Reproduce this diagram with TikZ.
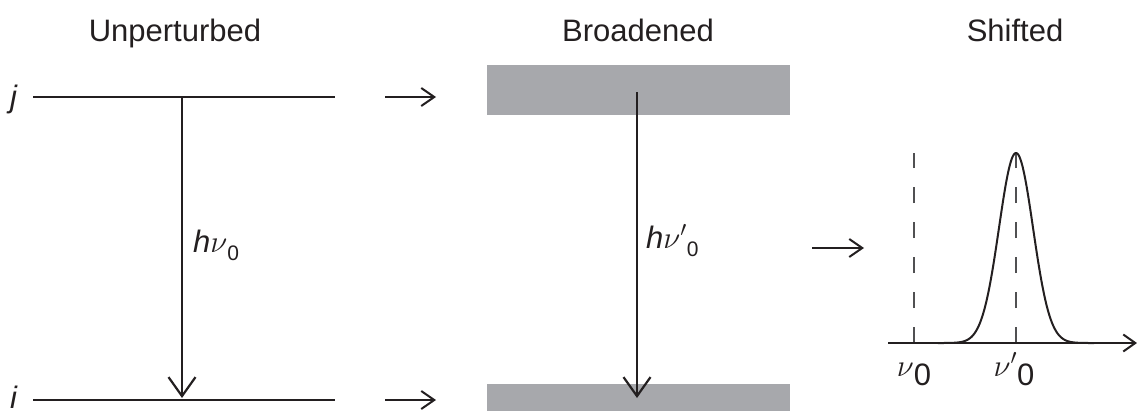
\RequirePackage{fix-cm}
\documentclass[tikz,border=0pt]{standalone}
\usepackage{fontspec}
\setmainfont{Liberation Sans}
\usetikzlibrary{arrows.meta}
\definecolor{bandgray}{RGB}{167,168,172}
\definecolor{ink}{RGB}{35,31,32}
\definecolor{dashgray}{RGB}{80,80,82}
\begin{document}
\begin{tikzpicture}[x=1pt,y=-1pt, line width=2.2pt, draw=ink,
  txt/.style={font=\fontsize{31}{36}\selectfont, inner sep=0pt, text=ink},
  bigarrow/.style={-{Straight Barb[length=19pt,width=27pt,line width=2.2pt]}},
  smallarrow/.style={-{Straight Barb[length=13pt,width=18pt,line width=2pt]}},
  band/.style={fill=bandgray, draw=none},
  dashline/.style={draw=dashgray, line width=2.6pt, dash pattern=on 16pt off 19pt},
]
\useasboundingbox (0,0) rectangle (1137,410);

% titles
\node[txt, anchor=base] (t1) at (175,41) {Unperturbed};
\node[txt, anchor=base] (t2) at (638,41) {Broadened};
\node[txt, anchor=base] (t3) at (1015,41) {Shifted};

% unperturbed levels
\node[txt, anchor=base] (jlab) at (14,107) {\textit{j}};
\node[txt, anchor=base] (ilab) at (14,408) {\textit{i}};
\coordinate (jL) at (33,97);
\coordinate (jR) at (335,97);
\coordinate (iL) at (33,400);
\coordinate (iR) at (335,400);
\draw (jL) -- (jR);
\draw (iL) -- (iR);
\coordinate (a1s) at (182,97);
\coordinate (a1e) at (182,398);
\draw[bigarrow] (a1s) -- (a1e);
\node[txt, anchor=base west] (hv0) at (192,252) {\textit{h}$\nu$\raisebox{-8pt}{\fontsize{21}{21}\selectfont 0}};

% arrows to broadened
\coordinate (r1s) at (385,97);
\coordinate (r1e) at (436,97);
\coordinate (r2s) at (385,400);
\coordinate (r2e) at (436,400);
\draw[smallarrow] (r1s) -- (r1e);
\draw[smallarrow] (r2s) -- (r2e);

% broadened bands
\node[band, minimum width=303pt, minimum height=50pt, inner sep=0pt] (topband) at (638.5,90) {};
\fill[bandgray] (487,384) rectangle (790,412);
\coordinate (a2s) at (637,92);
\coordinate (a2e) at (637,398);
\draw[bigarrow] (a2s) -- (a2e);
\node[txt, anchor=base west] (hv0p) at (645,248) {\textit{h}$\nu'$\raisebox{-8pt}{\fontsize{21}{21}\selectfont 0}};

% arrow to shifted
\coordinate (r3s) at (812,248);
\coordinate (r3e) at (864,248);
\draw[smallarrow] (r3s) -- (r3e);

% shifted plot
\coordinate (ax0) at (888,343);
\coordinate (ax1) at (1137,343);
\coordinate (d1t) at (914,153);
\coordinate (d1b) at (914,343);
\coordinate (d2t) at (1016,153);
\coordinate (d2b) at (1016,343);
\draw[dashline] (d1b) -- (d1t);
\draw[dashline] (d2b) -- (d2t);
\draw[line width=2pt, -{Straight Barb[length=12pt,width=17pt,line width=2pt]}] (ax0) -- (ax1);
\draw[line width=2pt] plot[domain=-4.6:4.6, samples=160, smooth] ({1016+17*\x}, {343-190*exp(-(\x*\x)/2)});
\node[txt, anchor=base] (nu0) at (914,376) {$\nu$\raisebox{-9pt}{0}};
\node[txt, anchor=base] (nu0p) at (1014,376) {$\nu'$\raisebox{-9pt}{0}};
\end{tikzpicture}
\end{document}
